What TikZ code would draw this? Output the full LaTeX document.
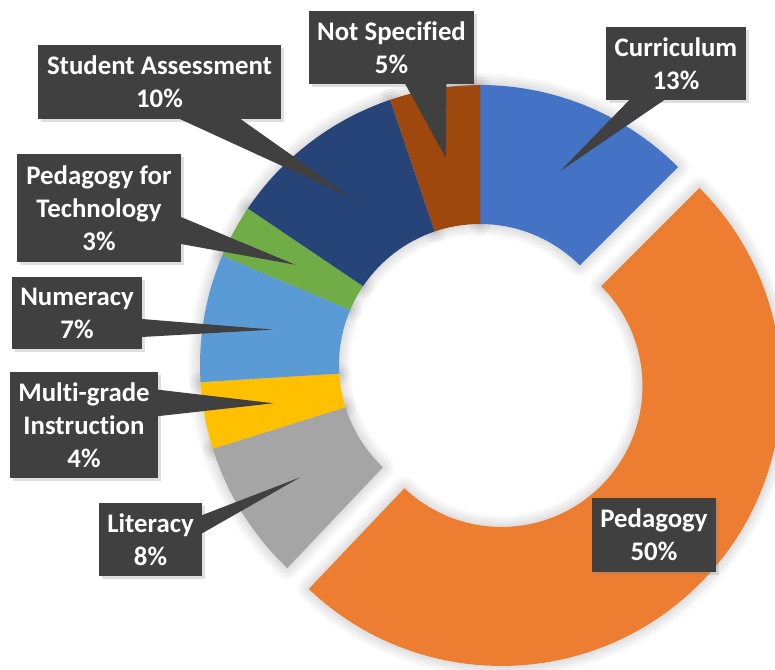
\documentclass[tikz,border=0pt]{standalone}
\usepackage{fontspec}
\setmainfont{Carlito}[Ligatures=NoCommon]
\usetikzlibrary{calc,shadows}
\definecolor{cur}{HTML}{4472C4}
\definecolor{ped}{HTML}{ED7D31}
\definecolor{lit}{HTML}{A5A5A5}
\definecolor{mul}{HTML}{FFC000}
\definecolor{num}{HTML}{5B9BD5}
\definecolor{tec}{HTML}{70AD47}
\definecolor{stu}{HTML}{264478}
\definecolor{nsp}{HTML}{9E480E}
\tikzset {ring/.style 2 args={insert path={(#1:280) arc[start angle=#1,end angle=#2,radius=280] -- (#2:141) arc[start angle=#2,end angle=#1,radius=141] -- cycle}},
halo/.style={draw=black,opacity=.03,line join=round},
lbl/.style={fill=black!75,text=white,font=\bfseries\fontsize{13.4}{16.5}\selectfont,align=center,inner sep=0pt,outer sep=0pt,drop shadow={shadow xshift=1.5pt,shadow yshift=-1.5pt,opacity=.25}},
wedge/.style={fill=black!75}}

\begin{document}
\begin{tikzpicture}[x=.5pt,y=.5pt]
\useasboundingbox (-480,-304) rectangle (295,365);
\clip (-480,-304) rectangle (295,365);
\foreach \w in {11pt,8pt,5pt,2.5pt} {
\foreach \a/\b in {90/45,226.5/197.4,197.4/183.5,183.5/157,157/146,146/108.7,108.7/90}
\draw[halo,line width=\w,ring={\a}{\b}];
\draw[halo,line width=\w,shift={(-44.25:30)},ring={45}{-133.5}];
}
\foreach \a/\b/\c in {90/45/cur,226.5/197.4/lit,197.4/183.5/mul,183.5/157/num,157/146/tec,146/108.7/stu,108.7/90/nsp}
\fill[\c,ring={\a}{\b}];
\fill[ped,shift={(-44.25:30)},ring={45}{-133.5}];
\coordinate (CurT) at (67.5:210);
\coordinate (NotT) at (99.4:210);
\coordinate (StuT) at (127.4:210);
\coordinate (TecT) at (151.5:210);
\coordinate (NumT) at (170.3:210);
\coordinate (MulT) at (190.5:210);
\coordinate (LitT) at (212:212);
\node[lbl,minimum width=70pt,minimum height=36.5pt] (Cur) at (196,301.5) {Curriculum\\13\%};
\node[lbl,minimum width=82.5pt,minimum height=36.5pt] (Not) at (-88.5,317.5) {Not Specified\\5\%};
\node[lbl,minimum width=121.5pt,minimum height=37pt] (Stu) at (-320.5,283) {Student Assessment\\10\%};
\node[lbl,minimum width=82pt,minimum height=54pt] (Tec) at (-381,157) {Pedagogy for\\Technology\\3\%};
\node[lbl,minimum width=65pt,minimum height=36pt] (Num) at (-403,52) {Numeracy\\7\%};
\node[lbl,minimum width=74pt,minimum height=53pt] (Mul) at (-396,-60) {Multi-grade\\Instruction\\4\%};
\node[lbl,minimum width=51.5pt,minimum height=36.5pt] (Lit) at (-329.5,-174.5) {Literacy\\8\%};
\node[lbl,minimum width=62pt,minimum height=37pt] (Ped) at (174,-170) {Pedagogy\\50\%};
\fill[wedge] ($(Cur.south west)!2/12!(Cur.south east)$) -- (CurT) -- ($(Cur.south west)!5/12!(Cur.south east)$) -- cycle;
\fill[wedge] ($(Not.south west)!7/12!(Not.south east)$) -- (NotT) -- ($(Not.south west)!10/12!(Not.south east)$) -- cycle;
\fill[wedge] ($(Stu.south west)!7/12!(Stu.south east)$) -- (StuT) -- ($(Stu.south west)!10/12!(Stu.south east)$) -- cycle;
\fill[wedge] ($(Tec.north east)!7/12!(Tec.south east)$) -- (TecT) -- ($(Tec.north east)!10/12!(Tec.south east)$) -- cycle;
\fill[wedge] ($(Num.north east)!7/12!(Num.south east)$) -- (NumT) -- ($(Num.north east)!10/12!(Num.south east)$) -- cycle;
\fill[wedge] ($(Mul.north east)!2/12!(Mul.south east)$) -- (MulT) -- ($(Mul.north east)!5/12!(Mul.south east)$) -- cycle;
\fill[wedge] ($(Lit.north east)!2/12!(Lit.south east)$) -- (LitT) -- ($(Lit.north east)!5/12!(Lit.south east)$) -- cycle;
\end{tikzpicture}
\end{document}
